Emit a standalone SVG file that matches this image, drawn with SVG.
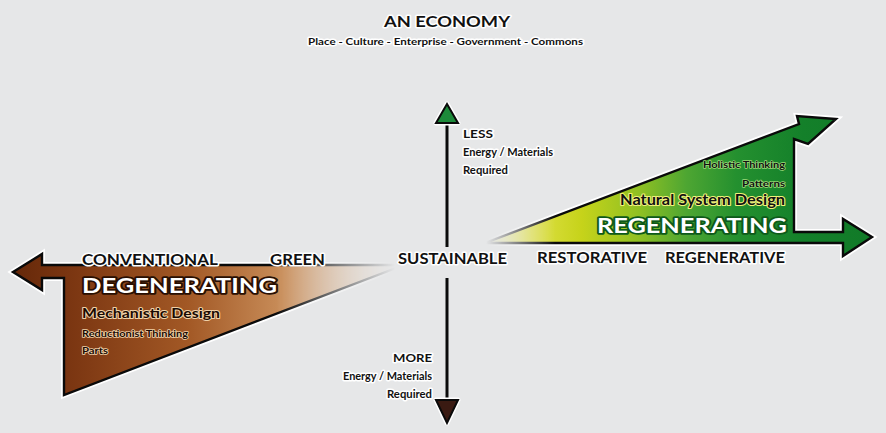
<svg xmlns="http://www.w3.org/2000/svg" width="886" height="433" viewBox="0 0 886 433">
<defs>
<style>
.t{font-family:Lato,"Open Sans","DejaVu Sans",sans-serif;font-weight:700;fill:#111;stroke:#fff;stroke-width:3;paint-order:stroke;stroke-linejoin:round}
.big{font-size:21px;fill:#fff;stroke-width:3.5}
.halo{stroke:#fff;stroke-width:6;stroke-linejoin:miter;fill:none}
.edge{stroke:#0a0a0a;stroke-width:2.4;stroke-linejoin:miter}
.axis{stroke:#0a0a0a;stroke-width:3;fill:none}
</style>
<linearGradient id="brownFill" gradientUnits="userSpaceOnUse" x1="13" y1="0" x2="400" y2="0">
<stop offset="0" stop-color="#652809"/>
<stop offset="0.14" stop-color="#7a3511"/>
<stop offset="0.45" stop-color="#a25825"/>
<stop offset="0.7" stop-color="#c98e5a"/>
<stop offset="1" stop-color="#e6dcd0"/>
</linearGradient>
<linearGradient id="brownMaskGrad" gradientUnits="userSpaceOnUse" x1="0" y1="0" x2="395" y2="0">
<stop offset="0" stop-color="#fff"/>
<stop offset="0.7" stop-color="#fff"/>
<stop offset="1" stop-color="#000"/>
</linearGradient>
<mask id="brownMask" maskUnits="userSpaceOnUse" x="0" y="0" width="886" height="433">
<rect x="0" y="0" width="886" height="433" fill="url(#brownMaskGrad)"/>
</mask>
<linearGradient id="greenFill" gradientUnits="userSpaceOnUse" x1="485" y1="0" x2="872" y2="0">
<stop offset="0" stop-color="#eef0a0"/>
<stop offset="0.12" stop-color="#dfe046"/>
<stop offset="0.25" stop-color="#c6d31a"/>
<stop offset="0.4" stop-color="#8fc023"/>
<stop offset="0.52" stop-color="#4ea632"/>
<stop offset="0.65" stop-color="#24902f"/>
<stop offset="0.82" stop-color="#14802a"/>
<stop offset="1" stop-color="#117a28"/>
</linearGradient>
<linearGradient id="greenMaskGrad" gradientUnits="userSpaceOnUse" x1="486" y1="0" x2="555" y2="0">
<stop offset="0" stop-color="#000"/>
<stop offset="1" stop-color="#fff"/>
</linearGradient>
<mask id="greenMask" maskUnits="userSpaceOnUse" x="0" y="0" width="886" height="433">
<rect x="0" y="0" width="886" height="433" fill="url(#greenMaskGrad)"/>
</mask>
</defs>
<rect x="0" y="0" width="886" height="433" fill="#e6e7e8"/>

<g id="title">
<text class="t" x="447" y="27" font-size="16" text-anchor="middle" textLength="126" lengthAdjust="spacingAndGlyphs">AN ECONOMY</text>
<text class="t" x="445.5" y="45" font-size="10" text-anchor="middle" textLength="275" lengthAdjust="spacingAndGlyphs">Place - Culture - Enterprise - Government - Commons</text>
</g>

<g id="node-degenerating">
<g mask="url(#brownMask)">
<polygon class="halo" points="13,272 42,254 42,265 400,265 396,268 64,395 64,278 42,278 42,290"/>
<polygon class="edge" fill="url(#brownFill)" points="13,272 42,254 42,265 400,265 396,268 64,395 64,278 42,278 42,290"/>
</g>
<text class="t big" x="82" y="293" textLength="195" lengthAdjust="spacingAndGlyphs" style="fill:#fff;stroke:#2a0f02">DEGENERATING</text>
<text class="t" x="82" y="318" font-size="14" textLength="138" lengthAdjust="spacingAndGlyphs" style="fill:#1a0a02;stroke:#f0d2aa;stroke-width:2">Mechanistic Design</text>
<text class="t" x="82" y="337" font-size="10" textLength="106" lengthAdjust="spacingAndGlyphs" style="fill:#1a0a02;stroke:#f0d2aa;stroke-width:1.6">Reductionist Thinking</text>
<text class="t" x="82" y="354" font-size="10" textLength="26" lengthAdjust="spacingAndGlyphs" style="fill:#1a0a02;stroke:#f0d2aa;stroke-width:1.6">Parts</text>
</g>

<g id="node-regenerating">
<g mask="url(#greenMask)">
<polygon class="halo" points="485,243 799,124 797,116 836,119 808,144 794,139 794,232 843,232 843,219 872,237 843,256 843,243"/>
<polygon class="edge" fill="url(#greenFill)" points="485,243 799,124 797,116 836,119 808,144 794,139 794,232 843,232 843,219 872,237 843,256 843,243"/>
</g>
<text class="t" x="785" y="168" font-size="10" text-anchor="end" textLength="82" lengthAdjust="spacingAndGlyphs" style="stroke:#9fdc7a;stroke-width:1.4">Holistic Thinking</text>
<text class="t" x="785" y="187" font-size="10" text-anchor="end" textLength="43" lengthAdjust="spacingAndGlyphs" style="stroke:#9fdc7a;stroke-width:1.4">Patterns</text>
<text class="t" x="785" y="205" font-size="15" text-anchor="end" textLength="165" lengthAdjust="spacingAndGlyphs" style="stroke:#f2f27a;stroke-width:2">Natural System Design</text>
<text class="t big" x="787" y="233" text-anchor="end" textLength="190" lengthAdjust="spacingAndGlyphs" style="fill:#fff;stroke:#0e5a1a">REGENERATING</text>
</g>

<g id="connectors">
<line class="axis" x1="447" y1="122" x2="447" y2="247"/>
<line class="axis" x1="447" y1="278" x2="447" y2="401"/>
<polygon points="447,104 436,123 458,123" fill="#1d8a3a" stroke="#fff" stroke-width="5" stroke-linejoin="round"/>
<polygon points="447,104 436,123 458,123" fill="#1d8a3a" stroke="#0a0a0a" stroke-width="2"/>
<polygon points="436,400 458,400 447,423" fill="#3a1a12" stroke="#fff" stroke-width="5" stroke-linejoin="round"/>
<polygon points="436,400 458,400 447,423" fill="#3a1a12" stroke="#0a0a0a" stroke-width="2"/>
</g>

<g id="axis-labels">
<text class="t" x="463" y="138" font-size="11" textLength="30" lengthAdjust="spacingAndGlyphs">LESS</text>
<text class="t" x="463" y="156" font-size="10.5" textLength="90" lengthAdjust="spacingAndGlyphs">Energy / Materials</text>
<text class="t" x="463" y="174" font-size="10.5" textLength="45" lengthAdjust="spacingAndGlyphs">Required</text>
<text class="t" x="432" y="362" font-size="11" text-anchor="end" textLength="39" lengthAdjust="spacingAndGlyphs">MORE</text>
<text class="t" x="432" y="380" font-size="10.5" text-anchor="end" textLength="89" lengthAdjust="spacingAndGlyphs">Energy / Materials</text>
<text class="t" x="432" y="398" font-size="10.5" text-anchor="end" textLength="45" lengthAdjust="spacingAndGlyphs">Required</text>
</g>

<g id="scale-labels">
<text class="t" x="82" y="265" font-size="16" textLength="136" lengthAdjust="spacingAndGlyphs">CONVENTIONAL</text>
<text class="t" x="270" y="265" font-size="16" textLength="55" lengthAdjust="spacingAndGlyphs">GREEN</text>
<text class="t" x="398" y="264" font-size="16" textLength="109" lengthAdjust="spacingAndGlyphs">SUSTAINABLE</text>
<text class="t" x="537" y="263" font-size="16" textLength="110" lengthAdjust="spacingAndGlyphs">RESTORATIVE</text>
<text class="t" x="665" y="263" font-size="16" textLength="120" lengthAdjust="spacingAndGlyphs">REGENERATIVE</text>
</g>
</svg>
